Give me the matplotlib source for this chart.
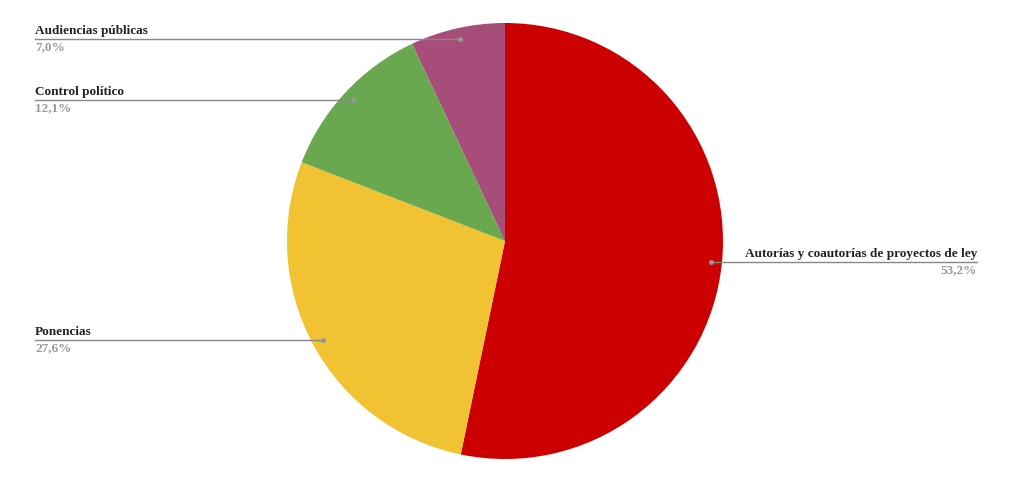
import matplotlib
matplotlib.use("Agg")
import matplotlib.pyplot as plt
import numpy as np

labels = ["Autorías y coautorías de proyectos de ley", "Ponencias", "Control político", "Audiencias públicas"]
values = [53.2, 27.6, 12.1, 7.0]
pct_labels = ["53,2%", "27,6%", "12,1%", "7,0%"]
colors = ["#CC0000", "#F1C232", "#6AA84F", "#A64D79"]

W, H = 1024, 478
fig = plt.figure(figsize=(W / 100, H / 100), dpi=100)
ax = fig.add_axes([0, 0, 1, 1])

cx, cy, r = 505, 237, 218
wedges, _ = ax.pie(values, colors=colors, startangle=90, counterclock=False,
                   center=(cx, cy), radius=r, frame=True,
                   wedgeprops=dict(linewidth=0))
ax.set_xlim(0, W)
ax.set_ylim(0, H)
ax.set_aspect("equal")
ax.axis("off")

font = dict(family="Liberation Serif", fontweight="bold", fontsize=9.5)
for w, lab, pct in zip(wedges, labels, pct_labels):
    ang = np.deg2rad((w.theta1 + w.theta2) / 2)
    dx, dy = cx + 0.95 * r * np.cos(ang), cy + 0.95 * r * np.sin(ang)
    ax.plot([dx], [dy], marker="o", ms=2.5, color="#999999", zorder=5)
    if np.cos(ang) >= 0:
        xe = 977
        ax.plot([dx, xe], [dy, dy], color="#888888", lw=1, zorder=4)
        ax.text(xe, dy + 2, lab, ha="right", va="bottom", color="#222222", **font)
        ax.text(xe, dy - 2, pct, ha="right", va="top", color="#999999", **font)
    else:
        xe = 35
        ax.plot([xe, dx], [dy, dy], color="#888888", lw=1, zorder=4)
        ax.text(xe, dy + 2, lab, ha="left", va="bottom", color="#222222", **font)
        ax.text(xe, dy - 2, pct, ha="left", va="top", color="#999999", **font)

fig.savefig("out.png", dpi=100)
